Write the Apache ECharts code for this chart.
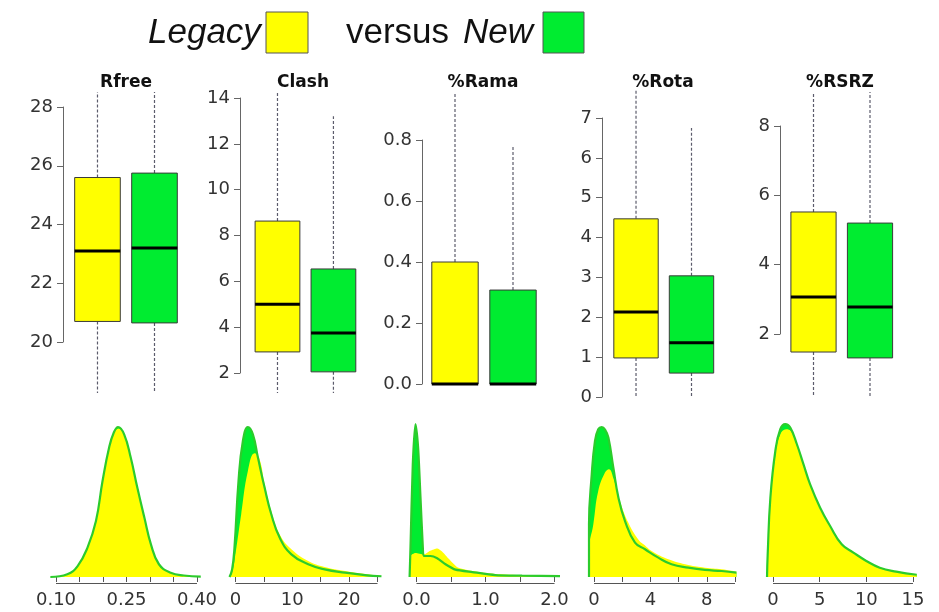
<!DOCTYPE html>
<html>
<head>
<meta charset="utf-8">
<script src="https://cdn.jsdelivr.net/npm/echarts@6/dist/echarts.min.js"></script>
<style>html,body{margin:0;padding:0;background:#fff}#c{width:939px;height:612px}</style>
</head>
<body>
<div id="c"></div>
<script>
// ---------- DATA ----------
const panelTitles = ['Rfree', 'Clash', '%Rama', '%Rota', '%RSRZ'];
// [lower whisker, Q1, median, Q3, upper whisker]
const legacyBox = [
  [18.26, 20.7, 23.1, 25.6, 28.51],
  [1.13, 2.92, 5.0, 8.63, 14.27],
  [0, 0, 0, 0.40, 0.954],
  [0, 0.98, 2.13, 4.47, 7.70],
  [0.18, 1.48, 3.07, 5.52, 8.98]
];
const newBox = [
  [18.26, 20.65, 23.2, 25.75, 28.51],
  [1.13, 2.05, 3.75, 6.54, 13.2],
  [0, 0, 0, 0.308, 0.777],
  [0, 0.6, 1.36, 3.04, 6.75],
  [0.18, 1.31, 2.78, 5.2, 8.98]
];
const boxAxisMin = [20, 2, 0, 0, 2];
const boxAxisMax = [28, 14, 0.8, 7, 8];
const boxAxisStep = [2, 2, 0.2, 1, 2];

// density curves (x, relative density)
const rfreeNew = [[0.088,0],[0.124,0.018],[0.146,0.073],[0.167,0.196],[0.185,0.373],[0.199,0.64],[0.213,0.863],[0.223,0.963],[0.232,1.0],[0.245,0.951],[0.259,0.796],[0.273,0.596],[0.288,0.396],[0.302,0.218],[0.319,0.085],[0.344,0.029],[0.372,0.01],[0.408,0.003]];
const rfreeLegacy = [[0.088,0],[0.124,0.02],[0.146,0.075],[0.167,0.2],[0.185,0.378],[0.199,0.645],[0.213,0.86],[0.223,0.958],[0.233,0.99],[0.245,0.948],[0.259,0.795],[0.273,0.598],[0.288,0.4],[0.302,0.222],[0.319,0.088],[0.344,0.03],[0.372,0.011],[0.408,0.003]];
const clashNew = [[-1.06,0],[-0.6,0.05],[-0.18,0.196],[0.53,0.64],[1.3,0.907],[2.18,1.0],[3.06,0.951],[3.95,0.796],[5.12,0.596],[6.3,0.418],[7.77,0.263],[9.84,0.151],[12.8,0.085],[15.7,0.051],[19.3,0.029],[22.8,0.013],[25.7,0.005]];
const clashLegacy = [[-1.06,0],[-0.6,0.03],[-0.18,0.107],[1.0,0.418],[2.18,0.707],[3.36,0.825],[4.24,0.785],[5.12,0.62],[6.3,0.44],[7.77,0.285],[9.84,0.185],[12.8,0.107],[15.7,0.067],[19.3,0.04],[22.8,0.02],[25.7,0.008]];
const ramaNew = [[-0.1,0],[-0.087,0.2],[-0.054,0.75],[-0.015,1.02],[0.024,0.86],[0.058,0.53],[0.092,0.196],[0.106,0.14],[0.203,0.14],[0.30,0.125],[0.42,0.085],[0.565,0.049],[0.81,0.033],[1.14,0.013],[1.53,0.009],[2.08,0.006]];
const ramaLegacy = [[-0.1,0],[-0.087,0.14],[-0.015,0.16],[0.106,0.15],[0.2,0.175],[0.30,0.19],[0.37,0.17],[0.47,0.12],[0.6,0.063],[0.81,0.04],[1.14,0.02],[1.53,0.012],[2.08,0.008]];
const rotaNew = [[-0.355,0],[-0.355,0.35],[-0.16,0.685],[0.07,0.907],[0.3,0.985],[0.55,1.0],[0.8,0.98],[1.02,0.93],[1.37,0.73],[1.73,0.53],[2.2,0.373],[2.91,0.229],[3.62,0.185],[4.56,0.129],[5.5,0.085],[6.69,0.062],[7.87,0.047],[9.05,0.04],[10.1,0.029]];
const rotaLegacy = [[-0.355,0],[-0.355,0.18],[-0.05,0.35],[0.3,0.573],[0.78,0.696],[1.06,0.718],[1.37,0.66],[1.84,0.507],[2.43,0.363],[3.14,0.25],[3.62,0.21],[4.09,0.173],[5.27,0.118],[6.69,0.08],[7.87,0.062],[9.05,0.051],[10.1,0.035]];
const rsrzNew = [[-0.64,0],[-0.57,0.15],[-0.28,0.53],[0.25,0.84],[0.78,0.985],[1.31,1.02],[1.85,0.996],[2.56,0.885],[3.27,0.751],[3.98,0.618],[5.05,0.462],[6.12,0.34],[7.36,0.218],[8.61,0.163],[10.0,0.107],[11.44,0.062],[13.2,0.036],[15.4,0.015]];
const rsrzLegacy = [[-0.64,0],[-0.57,0.13],[-0.28,0.5],[0.25,0.81],[0.78,0.95],[1.4,0.985],[1.95,0.97],[2.56,0.875],[3.27,0.748],[3.98,0.618],[5.05,0.465],[6.12,0.345],[7.36,0.222],[8.61,0.168],[10.0,0.11],[11.44,0.065],[13.2,0.038],[15.4,0.016]];

const densityLegacy = [rfreeLegacy, clashLegacy, ramaLegacy, rotaLegacy, rsrzLegacy];
const densityNew = [rfreeNew, clashNew, ramaNew, rotaNew, rsrzNew];

// density x-axis ticks and labels
const densTicks = [
  [0.10, 0.15, 0.20, 0.25, 0.30, 0.35, 0.40],
  [0, 5, 10, 15, 20, 25],
  [0, 0.5, 1.0, 1.5, 2.0],
  [0, 2, 4, 6, 8, 10],
  [0, 5, 10, 15]
];
const densLabels = [
  [0.10, 0.25, 0.40],
  [0, 10, 20],
  [0, 1.0, 2.0],
  [0, 4, 8],
  [0, 5, 10, 15]
];
const densDecimals = [2, 0, 1, 0, 0];

// ---------- LAYOUT / STYLE ----------
const YELLOW = '#ffff00';
const GREEN = '#00ec30';
const GREEN_LINE = '#2ccc2c';
const FONT = 'DejaVu Sans';

const boxLayout = [ // left, top, width, height, xMin
  {left: 63, top: 107, width: 125.7, height: 235, xMin: 0.395},
  {left: 240, top: 98, width: 127, height: 275, xMin: 0.33},
  {left: 422, top: 140, width: 125.8, height: 244, xMin: 0.431},
  {left: 602, top: 118, width: 122.8, height: 279, xMin: 0.387},
  {left: 780, top: 126, width: 123.9, height: 208, xMin: 0.407}
];
// pixel positions of the first and last tick on each density axis
const densPix = [[56, 197], [235.5, 377.5], [416.5, 554.5], [594, 735], [773, 913]];
const titleX = [126, 303, 483, 663, 840];

const grid = [], xAxis = [], yAxis = [], series = [];

function renderBox(params, api) {
  const x = api.value(0);
  const colorIdx = api.value(6);
  const pMin = api.coord([x, api.value(1)]);
  const pQ1 = api.coord([x, api.value(2)]);
  const pMed = api.coord([x, api.value(3)]);
  const pQ3 = api.coord([x, api.value(4)]);
  const pMax = api.coord([x, api.value(5)]);
  const half = api.size([0.8, 0])[0] / 2;
  const cx = pMed[0];
  const dash = {stroke: '#5c5c6c', lineWidth: 1.2, lineDash: [3, 2]};
  const children = [];
  if (Math.abs(pMax[1] - pQ3[1]) > 0.5) children.push({type: 'line', shape: {x1: cx, y1: pQ3[1], x2: cx, y2: pMax[1]}, style: dash});
  if (Math.abs(pMin[1] - pQ1[1]) > 0.5) children.push({type: 'line', shape: {x1: cx, y1: pQ1[1], x2: cx, y2: pMin[1]}, style: dash});
  children.push({type: 'rect', shape: {x: cx - half, y: pQ3[1], width: 2 * half, height: pQ1[1] - pQ3[1]},
    style: {fill: colorIdx === 0 ? YELLOW : GREEN, stroke: '#3a3a3a', lineWidth: 1}});
  children.push({type: 'line', shape: {x1: cx - half, y1: pMed[1], x2: cx + half, y2: pMed[1]},
    style: {stroke: '#000', lineWidth: 3}});
  return {type: 'group', children};
}

const DENS_YMIN = -0.04;
function renderAxisLine(params, api) {
  const a = api.coord([api.value(0), DENS_YMIN]);
  const b = api.coord([api.value(1), DENS_YMIN]);
  return {type: 'line', shape: {x1: a[0], y1: a[1] + 0.5, x2: b[0], y2: b[1] + 0.5}, style: {stroke: '#555', lineWidth: 1}};
}

for (let i = 0; i < 5; i++) {
  const L = boxLayout[i];
  grid.push({left: L.left, top: L.top, width: L.width, height: L.height});
  xAxis.push({type: 'value', gridIndex: i, min: L.xMin, max: 2.6, show: false});
  const dec = boxAxisStep[i] < 1 ? 1 : 0;
  yAxis.push({
    type: 'value', gridIndex: i, min: boxAxisMin[i], max: boxAxisMax[i], interval: boxAxisStep[i],
    axisLine: {show: true, lineStyle: {color: '#666', width: 1}},
    axisTick: {show: true, length: 6, lineStyle: {color: '#666'}},
    splitLine: {show: false},
    axisLabel: {show: true, fontSize: 18, fontFamily: FONT, color: '#333', margin: 10,
      showMinLabel: true, showMaxLabel: true,
      formatter: v => Number(v).toFixed(dec)}
  });
  series.push({
    type: 'custom', xAxisIndex: i, yAxisIndex: i, renderItem: renderBox, clip: false,
    encode: {x: 0, y: [1, 2, 3, 4, 5]},
    data: [[1].concat(legacyBox[i], [0]), [2].concat(newBox[i], [1])],
    silent: true
  });
}

for (let i = 0; i < 5; i++) {
  const gi = i + 5;
  const ticks = densTicks[i];
  const t0 = ticks[0], t1 = ticks[ticks.length - 1];
  const all = densityNew[i].concat(densityLegacy[i]);
  const xmin = Math.min.apply(null, all.map(p => p[0]));
  const xmax = Math.max.apply(null, all.map(p => p[0]));
  const scale = (densPix[i][1] - densPix[i][0]) / (t1 - t0);
  const left = densPix[i][0] + (xmin - t0) * scale;
  const width = (xmax - xmin) * scale;
  grid.push({left: left, width: width, top: 427, height: 156});
  xAxis.push({
    type: 'value', gridIndex: gi, min: xmin, max: xmax,
    axisLine: {show: false},
    axisTick: {show: true, length: 5, customValues: ticks, lineStyle: {color: '#555'}},
    splitLine: {show: false},
    axisLabel: {show: true, customValues: densLabels[i], fontSize: 18, fontFamily: FONT, color: '#333', margin: 8,
      formatter: v => Number(v).toFixed(densDecimals[i])}
  });
  yAxis.push({type: 'value', gridIndex: gi, min: DENS_YMIN, max: 1, show: false});
  const common = {type: 'line', xAxisIndex: gi, yAxisIndex: gi, symbol: 'none', clip: false,
    smooth: i === 2 ? 0.2 : 0.45, silent: true};
  series.push(Object.assign({}, common, {data: densityNew[i], lineStyle: {width: 0}, areaStyle: {color: GREEN, opacity: 1}}));
  series.push(Object.assign({}, common, {data: densityLegacy[i], lineStyle: {width: 0}, areaStyle: {color: YELLOW, opacity: 1}}));
  series.push(Object.assign({}, common, {data: densityNew[i], lineStyle: {width: 2.2, color: GREEN_LINE}}));
  series.push({type: 'custom', xAxisIndex: gi, yAxisIndex: gi, renderItem: renderAxisLine, clip: false,
    encode: {x: [0, 1]}, data: [[t0, t1]], silent: true});
}

const graphic = [];
for (let i = 0; i < 5; i++) {
  graphic.push({type: 'text', x: titleX[i], y: 83, z: 100,
    style: {text: panelTitles[i], font: 'bold 17px "DejaVu Sans"', fill: '#111', textAlign: 'center', textVerticalAlign: 'middle'}});
}
graphic.push({type: 'text', x: 148, y: 33, style: {text: 'Legacy', font: 'italic 35px "Liberation Sans"', fill: '#111', textVerticalAlign: 'middle'}});
graphic.push({type: 'rect', shape: {x: 266, y: 12, width: 42, height: 41}, style: {fill: YELLOW, stroke: '#555', lineWidth: 1}});
graphic.push({type: 'text', x: 346, y: 33, style: {text: 'versus', font: '35px "Liberation Sans"', fill: '#111', textVerticalAlign: 'middle'}});
graphic.push({type: 'text', x: 463, y: 33, style: {text: 'New', font: 'italic 35px "Liberation Sans"', fill: '#111', textVerticalAlign: 'middle'}});
graphic.push({type: 'rect', shape: {x: 543, y: 12, width: 41, height: 41}, style: {fill: GREEN, stroke: '#555', lineWidth: 1}});

const chart = echarts.init(document.getElementById('c'), null, {renderer: 'canvas'});
chart.setOption({animation: false, backgroundColor: '#fff', grid, xAxis, yAxis, series, graphic});
</script>
</body>
</html>
